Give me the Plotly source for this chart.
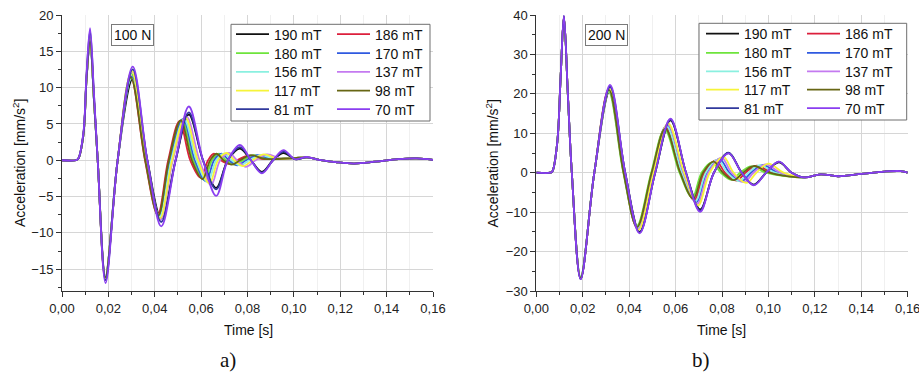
import plotly.graph_objects as go

# ---------------- data ----------------
LABELS = ["190 mT", "186 mT", "180 mT", "170 mT", "156 mT",
          "137 mT", "117 mT", "98 mT", "81 mT", "70 mT"]
COLORS = ["#111111", "#dc1f3c", "#6ee43c", "#2f5ae0", "#8af0e0",
          "#c47af0", "#f6f43a", "#676614", "#30399c", "#8a3ef0"]

# ---- panel a) 100 N : time [s] and acceleration [mm/s^2] ----
T100_BIG = [0, .006, .007, .0092, .0106, .0121, .0138, .0154, .0188, .0240, .0305, .0368, .0428, .0490,
            .0547, .0608, .0665, .0715, .0767, .0815, .0862, .0910, .0955, .1005, .1055, .1110, .1180,
            .1260, .1350, .1450, .1530, .1600]
A100_190 = [0, 0, 0.2, 3.4, 11.3, 16.3, 8.2, 0, -16.2, 0, 11.2, 0, -8.0, 0, 6.3, 0, -3.8, 0, 1.6, 0,
            -1.6, 0, 1.0, 0.15, 0.4, 0.05, -0.25, -0.45, -0.2, 0.15, 0.25, 0.05]
A100_81 = [0, 0, 0.2, 3.6, 11.8, 17.8, 8.9, 0, -16.5, 0, 12.5, 0, -8.5, 0, 6.6, 0, -4.0, 0, 1.8, 0,
           -1.7, 0, 1.2, 0.15, 0.4, 0.05, -0.25, -0.45, -0.2, 0.15, 0.25, 0.05]
A100_70 = [0, 0, 0.2, 3.7, 12.0, 18.2, 9.1, 0, -16.9, 0, 12.9, 0, -9.1, 0, 7.4, 0, -4.9, 0, 2.1, 0,
           -1.8, 0, 1.4, 0.15, 0.45, 0.05, -0.25, -0.45, -0.2, 0.15, 0.25, 0.05]

T100_186 = [0, .006, .007, .0092, .0106, .0121, .0138, .0154, .0187, .0240, .0296, .0358, .0413, .0458,
            .0507, .0553, .0598, .0630, .0655, .0685, .0718, .0755, .0800, .0860,
            .1000, .1060, .1110, .1180, .1260, .1350, .1450, .1530, .1600]
A100_186 = [0, 0, 0.2, 3.4, 11.3, 16.6, 8.3, 0, -16.0, 0, 11.6, 0, -7.5, 0, 5.4, 0, -2.4, 0, 0.9, 0,
            -0.5, 0, 0.6, 0.2, 0.3, 0.4, 0.05, -0.25, -0.45, -0.2, 0.15, 0.25, 0.05]
T100_98 = [0, .006, .007, .0092, .0106, .0121, .0138, .0154, .0187, .0240, .0297, .0359, .0415, .0461,
           .0512, .0560, .0606, .0639, .0666, .0697, .0731, .0768, .0814, .0874,
           .1000, .1060, .1110, .1180, .1260, .1350, .1450, .1530, .1600]
A100_98 = [0, 0, 0.2, 3.4, 11.2, 16.4, 8.2, 0, -16.1, 0, 11.4, 0, -7.6, 0, 5.5, 0, -2.6, 0, 0.9, 0,
           -0.6, 0, 0.7, 0.2, 0.3, 0.4, 0.05, -0.25, -0.45, -0.2, 0.15, 0.25, 0.05]
T100_180 = [0, .006, .007, .0092, .0106, .0121, .0138, .0154, .0187, .0240, .0298, .0361, .0417, .0465,
            .0517, .0566, .0613, .0647, .0677, .0708, .0743, .0782, .0828, .0888,
            .1000, .1060, .1110, .1180, .1260, .1350, .1450, .1530, .1600]
A100_180 = [0, 0, 0.2, 3.5, 11.5, 16.8, 8.4, 0, -16.3, 0, 12.0, 0, -7.7, 0, 5.6, 0, -2.7, 0, 0.9, 0,
            -0.6, 0, 0.7, 0.2, 0.3, 0.4, 0.05, -0.25, -0.45, -0.2, 0.15, 0.25, 0.05]
T100_170 = [0, .006, .007, .0092, .0106, .0121, .0138, .0154, .0187, .0240, .0299, .0362, .0419, .0468,
            .0522, .0573, .0621, .0656, .0688, .0720, .0756, .0795, .0843, .0903,
            .1000, .1060, .1110, .1180, .1260, .1350, .1450, .1530, .1600]
A100_170 = [0, 0, 0.2, 3.4, 11.3, 16.5, 8.2, 0, -16.2, 0, 11.5, 0, -7.8, 0, 5.7, 0, -2.9, 0, 0.9, 0,
            -0.7, 0, 0.7, 0.2, 0.3, 0.4, 0.05, -0.25, -0.45, -0.2, 0.15, 0.25, 0.05]
T100_156 = [0, .006, .007, .0092, .0106, .0121, .0138, .0154, .0187, .0240, .0300, .0363, .0421, .0471,
            .0527, .0580, .0628, .0665, .0698, .0732, .0768, .0808, .0857, .0917,
            .1000, .1060, .1110, .1180, .1260, .1350, .1450, .1530, .1600]
A100_156 = [0, 0, 0.2, 3.4, 11.2, 16.3, 8.1, 0, -16.0, 0, 11.3, 0, -7.8, 0, 5.6, 0, -3.0, 0, 0.9, 0,
            -0.7, 0, 0.7, 0.2, 0.3, 0.4, 0.05, -0.25, -0.45, -0.2, 0.15, 0.25, 0.05]
T100_117 = [0, .006, .007, .0092, .0106, .0121, .0138, .0154, .0187, .0240, .0301, .0365, .0423, .0475,
            .0532, .0586, .0636, .0673, .0709, .0743, .0781, .0822, .0871, .0931,
            .1000, .1060, .1110, .1180, .1260, .1350, .1450, .1530, .1600]
A100_117 = [0, 0, 0.2, 3.5, 11.6, 16.9, 8.4, 0, -16.4, 0, 12.3, 0, -8.0, 0, 5.9, 0, -3.2, 0, 1.0, 0,
            -0.8, 0, 0.8, 0.2, 0.3, 0.4, 0.05, -0.25, -0.45, -0.2, 0.15, 0.25, 0.05]
T100_137 = [0, .006, .007, .0092, .0106, .0121, .0138, .0154, .0187, .0240, .0302, .0366, .0425, .0478,
            .0537, .0593, .0643, .0682, .0720, .0755, .0793, .0835, .0885, .0945,
            .1000, .1060, .1110, .1180, .1260, .1350, .1450, .1530, .1600]
A100_137 = [0, 0, 0.2, 3.5, 11.6, 17.0, 8.5, 0, -16.5, 0, 12.2, 0, -8.2, 0, 6.0, 0, -3.4, 0, 1.0, 0,
            -0.9, 0, 0.8, 0.2, 0.3, 0.4, 0.05, -0.25, -0.45, -0.2, 0.15, 0.25, 0.05]

# ---- panel b) 200 N ----
T200_BIG = [0, .006, .0069, .0090, .0105, .0119, .0136, .0153, .0191, .0250, .0318, .0383, .0445, .0512,
            .0578, .0645, .0706, .0765, .0828, .0885, .0937, .0990, .1045, .1100,
            .1155, .1225, .1300, .1400, .1500, .1570, .1600]
A200_190 = [0, 0, 0.3, 7.5, 24.5, 39.6, 19.8, 0, -26.9, 0, 21.0, 0, -15.0, 0, 13.3, 0, -9.3, 0, 5.0, 0,
            -3.0, 0, 2.6, 0.0, -1.2, -0.4, -0.9, -0.3, 0.3, 0.4, 0.0]
A200_81 = [0, 0, 0.3, 7.5, 24.5, 39.8, 19.9, 0, -27.0, 0, 21.8, 0, -15.2, 0, 13.5, 0, -9.6, 0, 5.1, 0,
           -3.1, 0, 2.8, 0.0, -1.2, -0.4, -0.9, -0.3, 0.3, 0.4, 0.0]
A200_70 = [0, 0, 0.3, 7.5, 24.5, 39.8, 19.9, 0, -27.0, 0, 22.3, 0, -15.4, 0, 13.7, 0, -9.9, 0, 4.9, 0,
           -3.2, 0, 2.8, 0.0, -1.2, -0.4, -0.9, -0.3, 0.3, 0.4, 0.0]

T200_180 = [0, .006, .0069, .0090, .0105, .0119, .0136, .0153, .0191, .0250, .0312, .0375, .0433, .0495,
            .0553, .0617, .0672, .0712, .0756, .0795, .0840, .0878, .0925, .0990,
            .1155, .1225, .1300, .1400, .1500, .1570, .1600]
A200_180 = [0, 0, 0.3, 7.5, 24.5, 39.3, 19.6, 0, -26.4, 0, 20.5, 0, -13.5, 0, 11.0, 0, -6.3, 0, 2.6, 0,
            -1.8, 0, 1.6, 0.0, -1.2, -0.4, -0.9, -0.3, 0.3, 0.4, 0.0]
T200_98 = [0, .006, .0069, .0090, .0105, .0119, .0136, .0153, .0191, .0250, .0313, .0376, .0434, .0497,
           .0556, .0620, .0676, .0718, .0764, .0804, .0851, .0890, .0938, .1003,
           .1155, .1225, .1300, .1400, .1500, .1570, .1600]
A200_98 = [0, 0, 0.3, 7.5, 24.5, 39.5, 19.7, 0, -26.6, 0, 21.0, 0, -13.8, 0, 11.2, 0, -6.6, 0, 2.8, 0,
           -1.9, 0, 1.7, 0.0, -1.2, -0.4, -0.9, -0.3, 0.3, 0.4, 0.0]
T200_186 = [0, .006, .0069, .0090, .0105, .0119, .0136, .0153, .0191, .0250, .0313, .0377, .0435, .0498,
            .0558, .0624, .0680, .0724, .0773, .0813, .0862, .0901, .0950, .1015,
            .1155, .1225, .1300, .1400, .1500, .1570, .1600]
A200_186 = [0, 0, 0.3, 7.5, 24.5, 39.6, 19.8, 0, -26.7, 0, 21.3, 0, -14.0, 0, 11.6, 0, -6.9, 0, 3.1, 0,
            -2.0, 0, 1.8, 0.0, -1.2, -0.4, -0.9, -0.3, 0.3, 0.4, 0.0]
T200_156 = [0, .006, .0069, .0090, .0105, .0119, .0136, .0153, .0191, .0250, .0314, .0378, .0437, .0500,
            .0561, .0627, .0685, .0730, .0781, .0823, .0873, .0913, .0963, .1028,
            .1155, .1225, .1300, .1400, .1500, .1570, .1600]
A200_156 = [0, 0, 0.3, 7.5, 24.5, 39.2, 19.6, 0, -26.3, 0, 20.8, 0, -14.0, 0, 11.8, 0, -7.2, 0, 3.3, 0,
            -2.1, 0, 1.9, 0.0, -1.2, -0.4, -0.9, -0.3, 0.3, 0.4, 0.0]
T200_170 = [0, .006, .0069, .0090, .0105, .0119, .0136, .0153, .0191, .0250, .0315, .0378, .0438, .0502,
            .0563, .0630, .0689, .0735, .0789, .0832, .0883, .0925, .0975, .1040,
            .1155, .1225, .1300, .1400, .1500, .1570, .1600]
A200_170 = [0, 0, 0.3, 7.5, 24.5, 39.4, 19.7, 0, -26.6, 0, 21.1, 0, -14.2, 0, 12.0, 0, -7.5, 0, 3.5, 0,
            -2.2, 0, 2.0, 0.0, -1.2, -0.4, -0.9, -0.3, 0.3, 0.4, 0.0]
T200_137 = [0, .006, .0069, .0090, .0105, .0119, .0136, .0153, .0191, .0250, .0315, .0379, .0439, .0503,
            .0566, .0634, .0693, .0741, .0798, .0841, .0894, .0936, .0988, .1053,
            .1155, .1225, .1300, .1400, .1500, .1570, .1600]
A200_137 = [0, 0, 0.3, 7.5, 24.5, 39.6, 19.8, 0, -26.8, 0, 21.4, 0, -14.3, 0, 12.3, 0, -7.9, 0, 3.8, 0,
            -2.4, 0, 2.1, 0.0, -1.2, -0.4, -0.9, -0.3, 0.3, 0.4, 0.0]
T200_117 = [0, .006, .0069, .0090, .0105, .0119, .0136, .0153, .0191, .0250, .0316, .0380, .0440, .0505,
            .0568, .0637, .0697, .0747, .0806, .0850, .0905, .0948, .1000, .1065,
            .1155, .1225, .1300, .1400, .1500, .1570, .1600]
A200_117 = [0, 0, 0.3, 7.5, 24.5, 39.5, 19.7, 0, -26.7, 0, 21.2, 0, -14.5, 0, 12.5, 0, -8.3, 0, 4.0, 0,
            -2.6, 0, 2.3, 0.0, -1.2, -0.4, -0.9, -0.3, 0.3, 0.4, 0.0]

PANEL_A = [(T100_BIG, A100_190), (T100_186, A100_186), (T100_180, A100_180), (T100_170, A100_170),
           (T100_156, A100_156), (T100_137, A100_137), (T100_117, A100_117), (T100_98, A100_98),
           (T100_BIG, A100_81), (T100_BIG, A100_70)]
PANEL_B = [(T200_BIG, A200_190), (T200_186, A200_186), (T200_180, A200_180), (T200_170, A200_170),
           (T200_156, A200_156), (T200_137, A200_137), (T200_117, A200_117), (T200_98, A200_98),
           (T200_BIG, A200_81), (T200_BIG, A200_70)]

# ---------------- layout helpers (pixel geometry) ----------------
W, H = 919, 376
def px(x):
    return x / W
def py(y):
    return 1 - y / H

fig = go.Figure()

LEG_A_COLS = [236, 337]
LEG_A_ROWS = [34.5, 53.5, 72.3, 91.0, 109.5]
LEG_B_COLS = [706, 807]
LEG_B_ROWS = [34.0, 53.3, 71.7, 90.0, 108.5]

legend_layouts = {}
lid = 0
for panel, (data, xa, ya, cols, rows) in enumerate(
        [(PANEL_A, "x", "y", LEG_A_COLS, LEG_A_ROWS), (PANEL_B, "x2", "y2", LEG_B_COLS, LEG_B_ROWS)]):
    for i, (t, a) in enumerate(data):
        lid += 1
        name = "legend" if lid == 1 else "legend%d" % lid
        fig.add_trace(go.Scatter(
            x=t, y=a, mode="lines", name=LABELS[i], legend=name,
            line=dict(color=COLORS[i], width=1.8, shape="spline", smoothing=1.0),
            xaxis=xa, yaxis=ya, hoverinfo="skip"))
        col, row = i % 2, i // 2
        legend_layouts[name] = dict(
            x=px(cols[col] - 5), y=py(rows[row]), xanchor="left", yanchor="middle",
            bgcolor="rgba(0,0,0,0)", borderwidth=0,
            font=dict(family="Arial, Liberation Sans, sans-serif", size=14, color="#111"),
            itemwidth=33, tracegroupgap=0)

axis_common = dict(showline=True, linecolor="#333", linewidth=1, ticks="outside", ticklen=5,
                   tickwidth=1, tickcolor="#333", showgrid=True, gridcolor="#d6d6d6", gridwidth=1,
                   zeroline=False, automargin=False, ticklabeloverflow="allow",
                   tickfont=dict(family="Arial, Liberation Sans, sans-serif", size=13, color="#222"))
ydom = [py(291), py(15)]

fig.update_layout(
    width=W, height=H, autosize=False,
    margin=dict(l=0, r=0, t=0, b=0, autoexpand=False),
    paper_bgcolor="white", plot_bgcolor="white",
    separators=",.",
    showlegend=True,
    xaxis=dict(domain=[px(62), px(433)], range=[0, 0.16], dtick=0.02, tick0=0, tickformat=".2f",
               anchor="y", minor=dict(dtick=0.01, ticks="outside", ticklen=3, tickcolor="#333",
                                      showgrid=True, gridcolor="#f0f0f0"), **axis_common),
    yaxis=dict(domain=ydom, range=[-18, 20], dtick=5, tick0=0, anchor="x",
               minor=dict(dtick=2.5, ticks="outside", ticklen=3, tickcolor="#333",
                          showgrid=False), **axis_common),
    xaxis2=dict(domain=[px(536.3), px(907.7)], range=[0, 0.16], dtick=0.02, tick0=0,
                tickformat=".2f", anchor="y2",
                minor=dict(dtick=0.01, ticks="outside", ticklen=3, tickcolor="#333",
                           showgrid=True, gridcolor="#f0f0f0"), **axis_common),
    yaxis2=dict(domain=ydom, range=[-30, 40], dtick=10, tick0=0, anchor="x2",
                minor=dict(dtick=5, ticks="outside", ticklen=3, tickcolor="#333",
                           showgrid=False), **axis_common),
    **legend_layouts,
)

for (x0, x1, y0, y1) in [(231, 430, 24.3, 121), (699, 906.7, 23.3, 120)]:
    fig.add_shape(type="rect", xref="paper", yref="paper", x0=px(x0), x1=px(x1),
                  y0=py(y1), y1=py(y0), line=dict(color="#6e6e6e", width=1),
                  fillcolor="white", layer="above")

font_main = dict(family="Arial, Liberation Sans, sans-serif", size=14, color="#111")
ann = []
for txt, cx in [("100 N", 132), ("200 N", 606.5)]:
    ann.append(dict(text=txt, x=px(cx), y=py(35.3), xref="paper", yref="paper",
                    xanchor="center", yanchor="middle", showarrow=False, font=font_main,
                    bgcolor="white", bordercolor="#7a7a7a", borderwidth=1, borderpad=2))
for cx in [19, 492.5]:
    ann.append(dict(text="Acceleration [mm/s<sup>2</sup>]", x=px(cx), y=py(163), xref="paper",
                    yref="paper", xanchor="center", yanchor="middle", textangle=-90,
                    showarrow=False, font=font_main))
for cx in [248.3, 721.7]:
    ann.append(dict(text="Time [s]", x=px(cx), y=py(329.5), xref="paper", yref="paper",
                    xanchor="center", yanchor="middle", showarrow=False, font=font_main))
for txt, cx in [("a)", 228), ("b)", 700.8)]:
    ann.append(dict(text=txt, x=px(cx), y=py(360), xref="paper", yref="paper",
                    xanchor="center", yanchor="middle", showarrow=False,
                    font=dict(family="Liberation Serif, Times New Roman, serif", size=21,
                              color="#111")))
fig.update_layout(annotations=ann)

fig.write_html("out.html", config={"displayModeBar": False},
               post_script="document.body.style.margin='0';document.body.style.padding='0';")
